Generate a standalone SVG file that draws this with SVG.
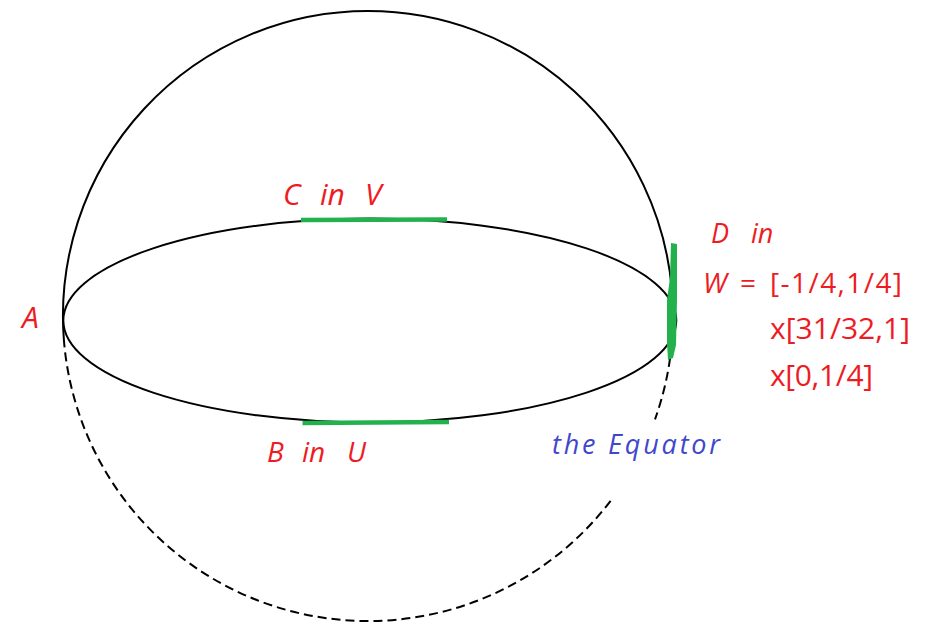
<svg xmlns="http://www.w3.org/2000/svg" width="926" height="626" viewBox="0 0 926 626">
<style>
.ln{fill:none;stroke:#000;stroke-width:2}
.dash{fill:none;stroke:#000;stroke-width:2;stroke-dasharray:9 5}
.seg{fill:none;stroke:#22b14c;stroke-width:4.5;stroke-linecap:butt}
.red{fill:#ed1c24;font-family:"Open Sans","Liberation Sans",sans-serif}
.it{font-style:italic}
.blue{fill:#3f48cc;font-family:"Open Sans","Liberation Sans",sans-serif;font-style:italic}
</style>
<rect width="926" height="626" fill="#fff"/>
<g id="sphere">
<path class="ln" d="M63.9,340 A305,305 0 0 1 368,11 A305,305 0 0 1 671.9,290"/>
<path class="dash" d="M670.1,358 A305,305 0 0 1 655,419.3"/>
<path class="dash" d="M610.6,500.8 A305,305 0 0 1 63.9,340"/>
</g>
<g id="equator">
<ellipse class="ln" cx="369.8" cy="320.5" rx="306.5" ry="102"/>
</g>
<g id="segments">
<line id="segC" class="seg" x1="301" y1="220" x2="447" y2="219.5"/>
<line id="segB" class="seg" x1="302.5" y1="423" x2="449" y2="422"/>
<path id="segD" fill="#22b14c" d="M671,243 L677,244 L677,300 L676,345 L673,358 L668,360 L667,343 L667,300 L670,278 Z"/>
</g>
<g id="labels">
<text id="labelA" class="red it" x="22" y="328" font-size="30">A</text>
<text id="labelC" class="red it" y="205" font-size="30"><tspan x="283">C</tspan><tspan x="320">in</tspan><tspan x="365">V</tspan></text>
<text id="labelB" class="red it" y="462" font-size="28"><tspan x="267">B</tspan><tspan x="302">in</tspan><tspan x="347">U</tspan></text>
<text id="labelD" class="red it" y="243" font-size="27"><tspan x="711">D</tspan><tspan x="751">in</tspan></text>
<text class="red it" x="703" y="293" font-size="28">W</text>
<text class="red" x="740" y="293" font-size="28">=</text>
<text class="red" x="770" y="293" font-size="28" textLength="132">[-1/4,1/4]</text>
<text class="red" x="770" y="339" font-size="30" textLength="140">x[31/32,1]</text>
<text class="red" x="770" y="386" font-size="30" textLength="103">x[0,1/4]</text>
<text id="labelEq" class="blue" x="552" y="454" font-size="27" textLength="168">the Equator</text>
</g>
</svg>
